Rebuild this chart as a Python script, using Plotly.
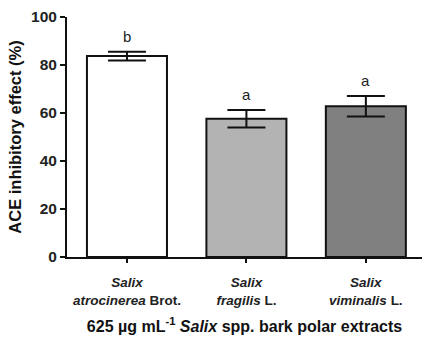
import plotly.graph_objects as go

# ACE inhibition by Salix bark polar extracts (mean ± SD)
species = ["<i>Salix</i><br><i>atrocinerea</i> Brot.",
           "<i>Salix</i><br><i>fragilis</i> L.",
           "<i>Salix</i><br><i>viminalis</i> L."]
inhibition = [83.7, 57.6, 62.8]
sd = [1.8, 3.6, 4.3]
letters = ["b", "a", "a"]
bar_colors = ["#ffffff", "#b3b3b3", "#808080"]
y_ticks = [0, 20, 40, 60, 80, 100]

FONT = "Liberation Sans, Arial, sans-serif"

fig = go.Figure()
fig.add_trace(go.Bar(
    x=list(range(len(species))),
    y=inhibition,
    width=0.67,
    marker=dict(color=bar_colors, line=dict(color="#111111", width=2)),
    error_y=dict(type="data", array=sd, visible=True, color="#111111",
                 thickness=2, width=19),
    showlegend=False,
))

# significance letters above the error bars
for i, (v, e, t) in enumerate(zip(inhibition, sd, letters)):
    fig.add_annotation(x=i, y=v + e, text=t, showarrow=False,
                       yanchor="bottom", yshift=5,
                       font=dict(family=FONT, size=15, color="#222222"))

fig.update_layout(
    width=422, height=348,
    margin=dict(l=67, r=0, t=17, b=91),
    paper_bgcolor="white", plot_bgcolor="white",
    font=dict(family=FONT, color="#111111"),
    bargap=0.33,
)
fig.update_xaxes(
    range=[-0.502, 2.47],
    tickvals=list(range(len(species))), ticktext=species,
    tickfont=dict(family=FONT, size=13.5, weight="bold", color="#222222"),
    ticks="outside", ticklen=4, tickwidth=2, tickcolor="#111111",
    ticklabelstandoff=8,
    showline=True, linecolor="#111111", linewidth=2,
    showgrid=False, zeroline=False,
    title=dict(text="625 µg mL<sup>-1</sup> <i>Salix</i> spp. bark polar extracts",
               font=dict(family=FONT, size=16, weight="bold", color="#111111"),
               standoff=14),
)
fig.update_yaxes(
    range=[0, 100], tickvals=y_ticks,
    tickfont=dict(family=FONT, size=15.5, weight="bold", color="#222222"),
    ticks="outside", ticklen=5, tickwidth=2, tickcolor="#111111",
    showline=True, linecolor="#111111", linewidth=2,
    showgrid=False, zeroline=False,
    title=dict(text="ACE inhibitory effect (%)",
               font=dict(family=FONT, size=16.5, weight="bold", color="#111111"),
               standoff=5),
)

fig.write_html("out.html")
